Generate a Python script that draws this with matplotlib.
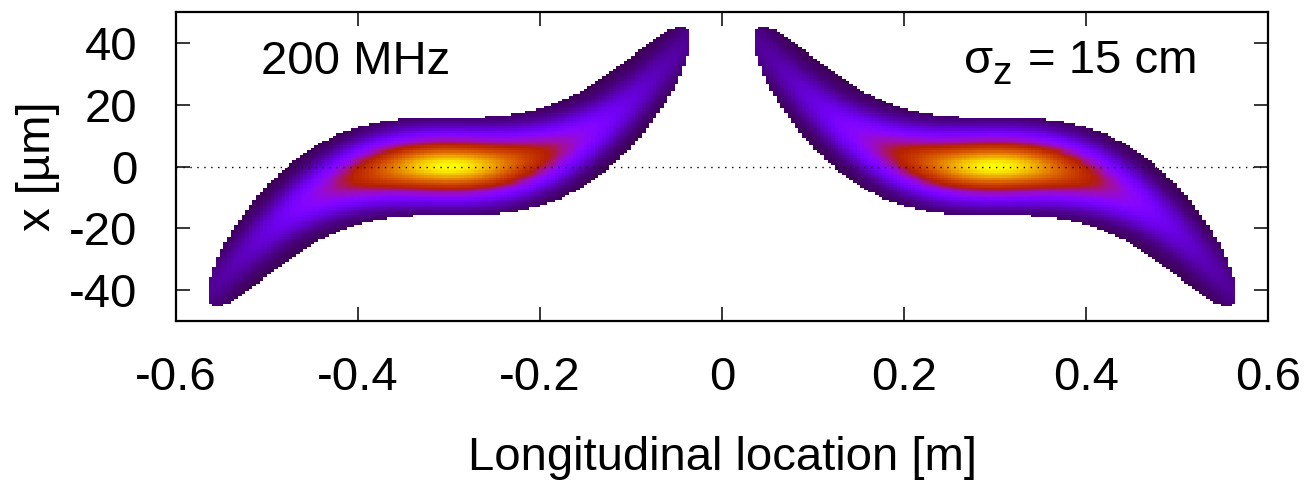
"""
Crab-tilted bunch density at 200 MHz, sigma_z = 15 cm
"""

import matplotlib
matplotlib.use("Agg")
import matplotlib.pyplot as plt
import numpy as np

plt.rcParams["font.family"] = ["Liberation Sans", "DejaVu Sans"]
plt.rcParams["axes.unicode_minus"] = False

# ── Data ─────────────────────────────────────────────────────────────────────
bunch_centers = [-0.30, 0.30]      # bunch centre along z [m]
tilt_signs    = [1, -1]            # left bunch rises to the right, right one falls
curve_a       = 3156.0             # centreline x = a*dz^3 - b*dz^5   [um]
curve_b       = 13700.0
half_length   = 0.265              # visible half length along z [m]
half_width    = 15.8               # visible half width in x [um]
sigma_x       = 5.9                # core width in x [um]
sigma_core    = 0.075              # core length in z [m]
sigma_wing    = 0.14               # wing length in z [m]
wing_weight   = 0.30
floor_value   = 0.05

x_ticks = [-0.6, -0.4, -0.2, 0, 0.2, 0.4, 0.6]
x_labels = ["-0.6", "-0.4", "-0.2", "0", "0.2", "0.4", "0.6"]
y_ticks = [-40, -20, 0, 20, 40]

# ── Grid ─────────────────────────────────────────────────────────────────────
z_edges = np.arange(-0.6, 0.6 + 1e-9, 0.004)
x_edges = np.arange(-50, 50 + 1e-9, 0.8)
zc = 0.5 * (z_edges[:-1] + z_edges[1:])
xc = 0.5 * (x_edges[:-1] + x_edges[1:])
Z, X = np.meshgrid(zc, xc)

value = np.full(Z.shape, np.nan)
for z0, sgn in zip(bunch_centers, tilt_signs):
    dz = Z - z0
    centre = sgn * (curve_a * dz**3 - curve_b * dz**5)
    dx = X - centre
    inside = (np.abs(dz) / half_length) ** 7 + (dx / half_width) ** 2 < 1
    gz = ((1 - wing_weight) * np.exp(-0.5 * (dz / sigma_core) ** 2)
          + wing_weight * np.exp(-0.5 * (dz / sigma_wing) ** 2))
    c = floor_value + (1 - floor_value) * gz * np.exp(-0.5 * (dx / sigma_x) ** 2)
    value = np.where(inside, c, value)

value = np.ma.masked_invalid(value)

# ── Figure ───────────────────────────────────────────────────────────────────
fig = plt.figure(figsize=(13.05, 4.82), dpi=100, facecolor="white")
ax = fig.add_axes([176 / 1305, 1 - 321 / 482, (1268 - 176) / 1305, (321 - 12) / 482])

ax.pcolormesh(z_edges, x_edges, value, cmap="gnuplot", vmin=0, vmax=1,
              shading="flat", rasterized=True)
ax.axhline(0, color="black", lw=1.0, ls=(0, (1, 4)), zorder=3)

ax.set_xlim(-0.6, 0.6)
ax.set_ylim(-50, 50)
ax.set_xticks(x_ticks)
ax.set_xticklabels(x_labels)
ax.set_yticks(y_ticks)

ax.tick_params(direction="in", length=10, width=1.1, top=True, right=True,
               labelsize=34)
ax.tick_params(axis="x", pad=25)
ax.tick_params(axis="y", pad=28)
for s in ax.spines.values():
    s.set_linewidth(1.6)

# labels inside the frame
ax.text(-0.507, 29.8, "200 MHz", ha="left", va="baseline", fontsize=34)
ax.text(0.266, 30.4, "σ", ha="left", va="baseline", fontsize=34)
ax.text(0.297, 26.6, "z", ha="left", va="baseline", fontsize=28)
ax.text(0.523, 30.4, "= 15 cm", ha="right", va="baseline", fontsize=34)

fig.text(723 / 1305, 12 / 482, "Longitudinal location [m]", ha="center",
         va="baseline", fontsize=34)
fig.text(38 / 1305, 1 - 166 / 482, "x [µm]", rotation=90, ha="center",
         va="center", fontsize=34)

fig.savefig("out.png", dpi=100, facecolor="white")
